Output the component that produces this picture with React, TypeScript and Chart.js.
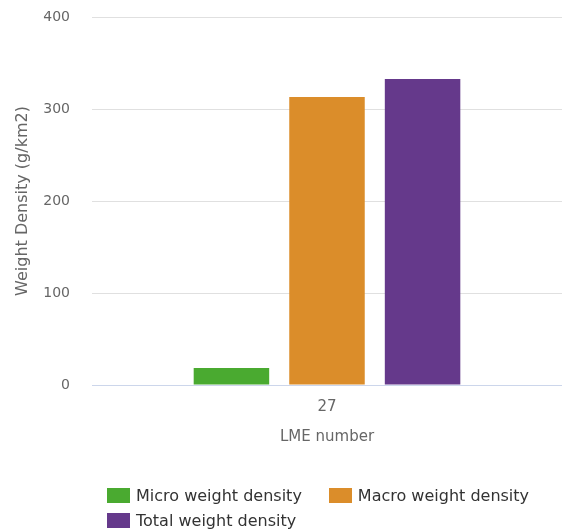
import React, { useEffect, useRef } from "react";
import { Chart, registerables } from "chart.js";

Chart.register(...registerables);

const categories = ["27"];
const seriesNames = ["Micro weight density", "Macro weight density", "Total weight density"];
const microValues = [18.5];
const macroValues = [313];
const totalValues = [332.5];
const seriesColors = ["#4aaa30", "#db8d2a", "#65398b"];
const yTicks = [0, 100, 200, 300, 400];

const FONT = '"DejaVu Sans", Verdana, sans-serif';

export default function App() {
  const ref = useRef<HTMLCanvasElement | null>(null);

  useEffect(() => {
    if (!ref.current) return;
    const values = [microValues, macroValues, totalValues];
    const chart = new Chart(ref.current, {
      type: "bar",
      data: {
        labels: categories,
        datasets: seriesNames.map((name, i) => ({
          label: name,
          data: values[i],
          backgroundColor: seriesColors[i],
          borderWidth: 0,
          categoryPercentage: 0.61,
          barPercentage: 0.79,
        })),
      },
      options: {
        animation: false,
        responsive: false,
        maintainAspectRatio: false,
        layout: { padding: { top: 17, right: 0, left: 0, bottom: 0 } },
        plugins: {
          legend: { display: false },
          tooltip: { enabled: false },
        },
        scales: {
          x: {
            grid: { display: false, drawTicks: false },
            border: { display: true, color: "#ccd6eb", width: 1, z: 2 },
            ticks: { color: "#666666", font: { family: FONT, size: 15 }, padding: 13 },
            title: {
              display: true,
              text: "LME number",
              color: "#666666",
              font: { family: FONT, size: 15 },
              padding: { top: 8, bottom: 14 },
            },
            afterFit: (s: any) => {
              s.height = 75;
            },
          },
          y: {
            min: 0,
            max: 400,
            afterBuildTicks: (s: any) => {
              s.ticks = yTicks.map((v) => ({ value: v }));
            },
            grid: {
              color: (ctx: any) => (ctx.tick && ctx.tick.value === 0 ? "rgba(0,0,0,0)" : "#e0e0e0"),
              drawTicks: true,
              tickLength: 22,
              tickColor: "rgba(0,0,0,0)",
            },
            border: { display: false },
            ticks: { color: "#666666", font: { family: FONT, size: 14 }, padding: 0 },
            title: {
              display: true,
              text: "Weight Density (g/km2)",
              color: "#666666",
              font: { family: FONT, size: 16 },
              padding: { top: 13, bottom: 0 },
            },
            afterFit: (s: any) => {
              s.width = 92;
            },
          },
        },
      },
    });
    return () => chart.destroy();
  }, []);

  const items = seriesNames.map((n, i) => (
    <div
      key={n}
      style={{ display: "flex", alignItems: "center", marginRight: i === 0 ? 27 : 0, height: 25 }}
    >
      <span
        style={{
          display: "inline-block",
          width: 23,
          height: 15,
          background: seriesColors[i],
          marginRight: 6,
        }}
      />
      <span style={{ fontFamily: FONT, fontSize: 16, color: "#333333" }}>{n}</span>
    </div>
  ));

  return (
    <div style={{ position: "fixed", left: 0, top: 0, width: 562, height: 531, background: "#fff" }}>
      <canvas ref={ref} width={562} height={460} style={{ display: "block" }} />
      <div
        style={{
          position: "absolute",
          left: 107,
          top: 483,
          width: 450,
          display: "flex",
          flexWrap: "wrap",
        }}
      >
        {items}
      </div>
    </div>
  );
}
